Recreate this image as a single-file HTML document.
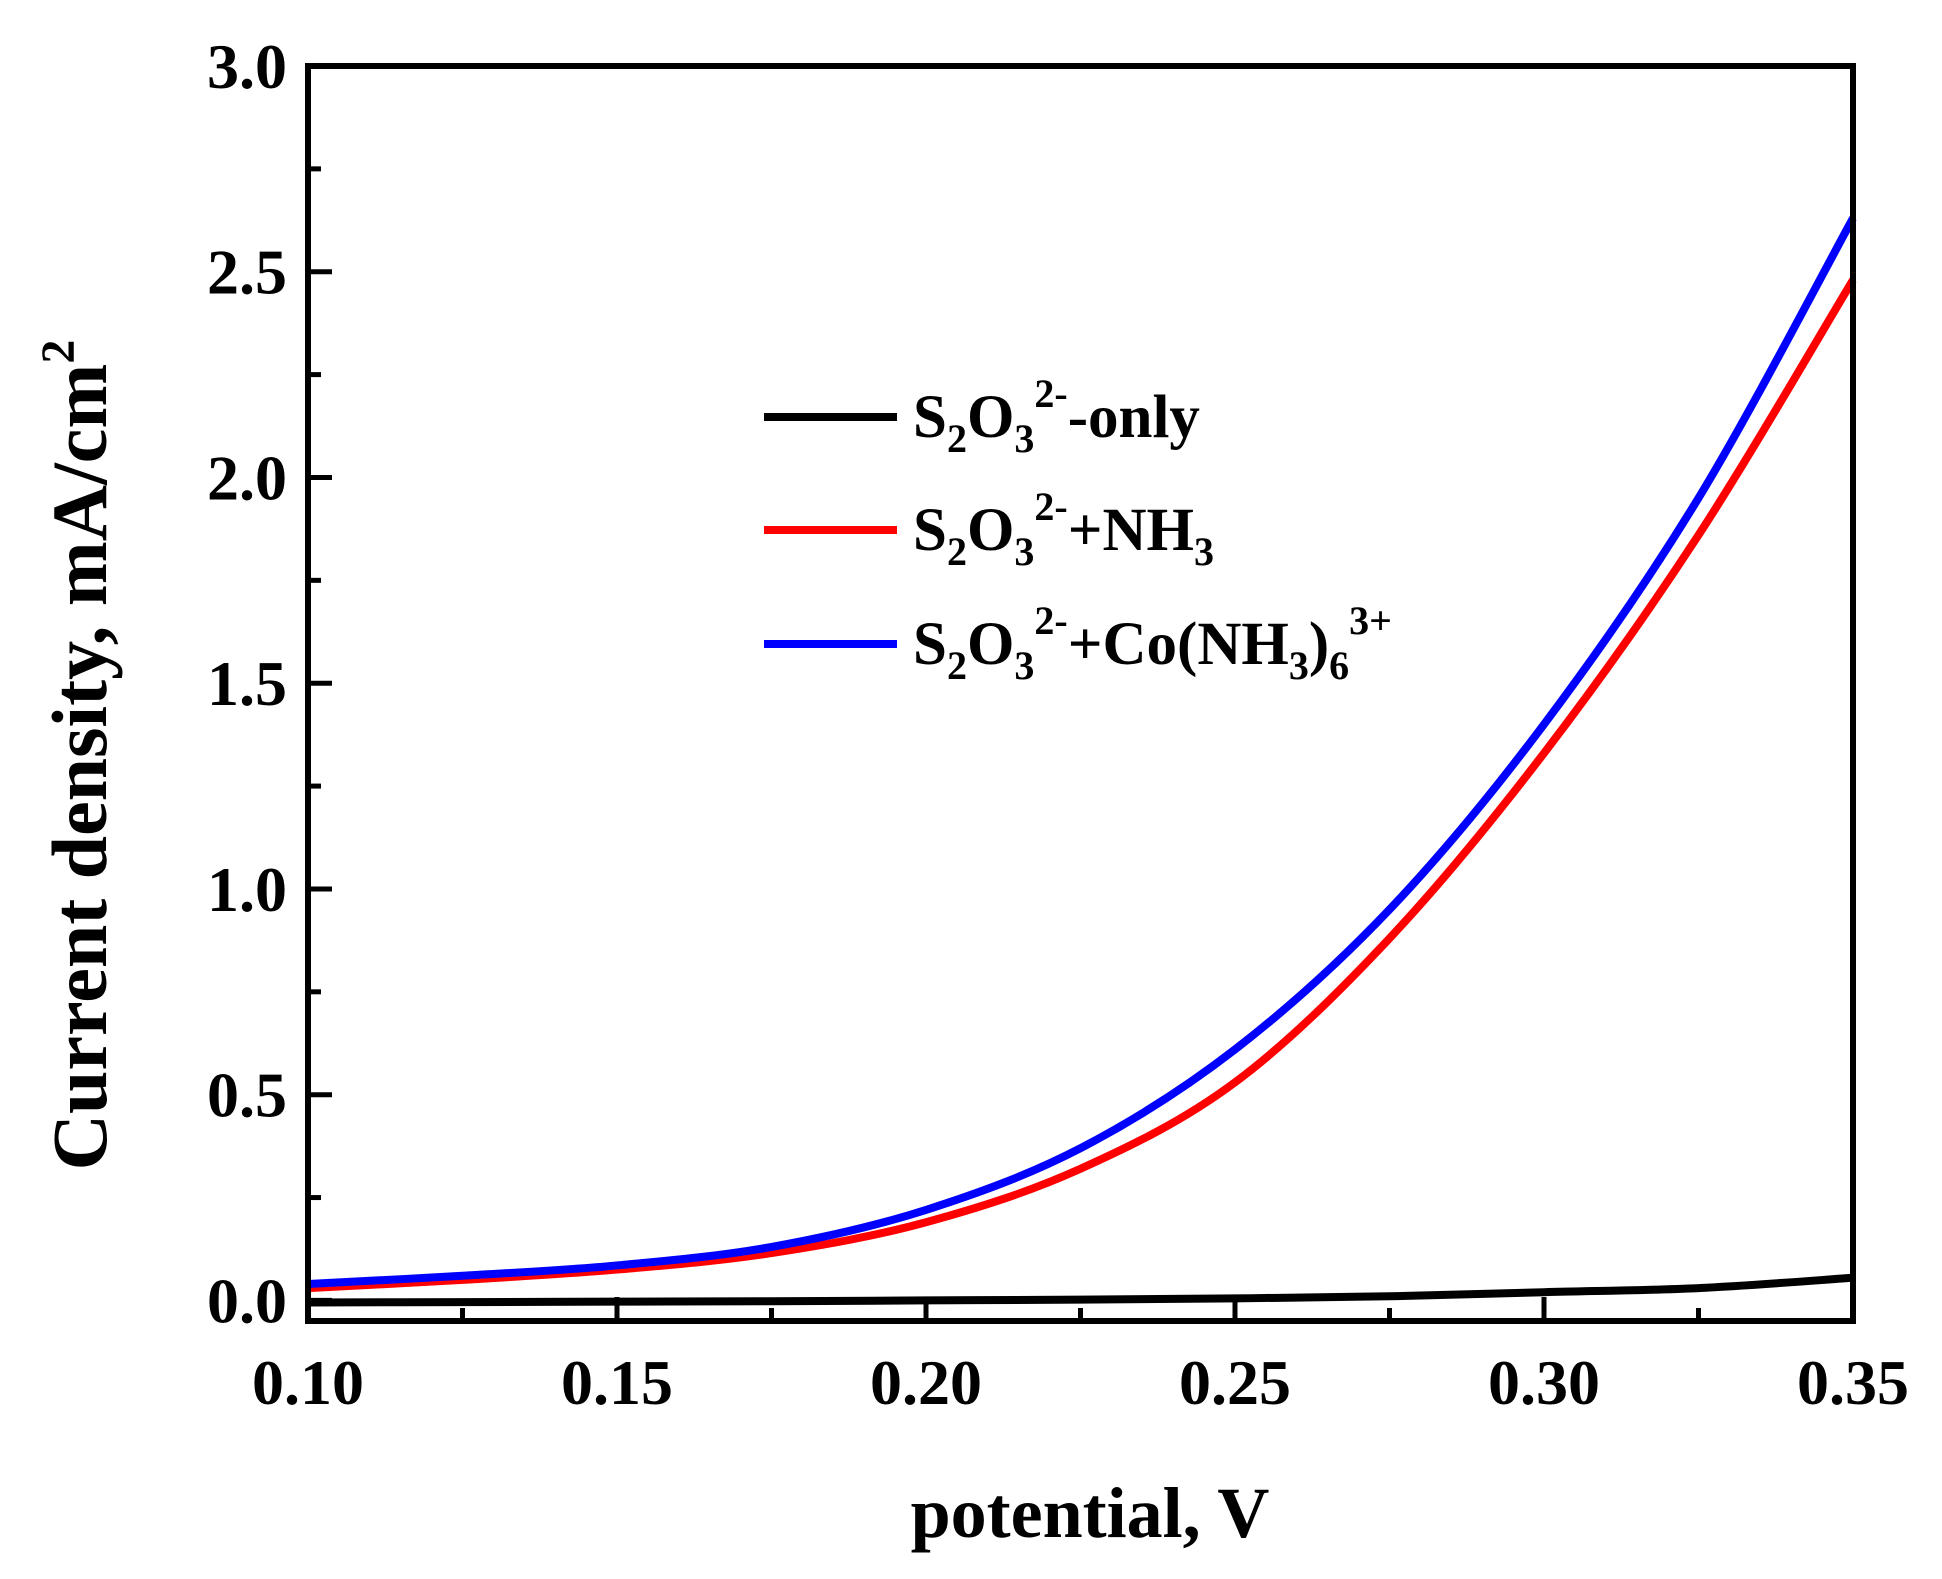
<!DOCTYPE html>
<html><head><meta charset="utf-8"><style>
body{margin:0;background:#fff;}
svg text{font-family:"Liberation Serif",serif;font-weight:bold;fill:#000;}
</style></head><body>
<svg width="1942" height="1574" viewBox="0 0 1942 1574">
<g id="marks"></g>
<g id="axes"></g>
<g id="legend"></g>
<text x="1090" y="1537" font-size="72" text-anchor="middle">potential, V</text>
<text transform="translate(106,755) rotate(-90)" font-size="78" text-anchor="middle">Current density, mA/cm<tspan font-size="48" dy="-32">2</tspan></text>
</svg>
<script>
const xs = [0.10,0.125,0.15,0.175,0.20,0.225,0.25,0.275,0.30,0.325,0.35];
const blackVals = [-0.005,-0.004,-0.003,-0.002,0.0,0.002,0.005,0.01,0.02,0.03,0.055];
const redVals = [0.03,0.05,0.075,0.115,0.19,0.32,0.53,0.88,1.33,1.86,2.48];
const blueVals = [0.04,0.06,0.085,0.13,0.22,0.37,0.61,0.95,1.40,1.95,2.63];
const xTicks = ["0.10","0.15","0.20","0.25","0.30","0.35"];
const yTicks = ["0.0","0.5","1.0","1.5","2.0","2.5","3.0"];
const L=308,R=1853,T=66,B=1321,XMIN=0.10,XMAX=0.35,YMIN=-0.05,YMAX=3.0;
const sx=v=>L+(v-XMIN)/(XMAX-XMIN)*(R-L);
const sy=v=>B-(v-YMIN)/(YMAX-YMIN)*(B-T);
const NS="http://www.w3.org/2000/svg";
function mk(tag,attrs,parent){const e=document.createElementNS(NS,tag);for(const k in attrs)e.setAttribute(k,attrs[k]);parent.appendChild(e);return e;}
function pathFor(vals){
  const p=xs.map((x,i)=>[sx(x),sy(vals[i])]);
  let d="M"+p[0][0]+","+p[0][1];
  for(let i=0;i<p.length-1;i++){
    const p0=p[Math.max(0,i-1)],p1=p[i],p2=p[i+1],p3=p[Math.min(p.length-1,i+2)];
    const c1=[p1[0]+(p2[0]-p0[0])/6,p1[1]+(p2[1]-p0[1])/6];
    const c2=[p2[0]-(p3[0]-p1[0])/6,p2[1]-(p3[1]-p1[1])/6];
    d+=" C"+c1+" "+c2+" "+p2;
  }
  return d;
}
const marks=document.getElementById('marks');
const series=[[blackVals,"#000","black-series"],[redVals,"#ff0000","red-series"],[blueVals,"#0000ff","blue-series"]];
series.forEach(s=>{
  const e=mk('path',{d:pathFor(s[0]),fill:"none",stroke:s[1],"stroke-width":8},marks);
  
  
});
const ax=document.getElementById('axes');
const frame=mk('rect',{x:L,y:T,width:R-L,height:B-T,fill:"none",stroke:"#000","stroke-width":6},ax);


xTicks.forEach((t,i)=>{
  const v=parseFloat(t),x=sx(v);
  mk('line',{x1:x,x2:x,y1:B,y2:B-24,stroke:"#000","stroke-width":5},ax);
  if(i<xTicks.length-1){const xm=sx(v+0.025);mk('line',{x1:xm,x2:xm,y1:B,y2:B-13,stroke:"#000","stroke-width":5},ax);}
  const tx=mk('text',{x:x,y:1404,"font-size":64,"text-anchor":"middle"},ax);tx.textContent=t;
  
  
});
yTicks.forEach((t,i)=>{
  const v=parseFloat(t),y=sy(v);
  mk('line',{x1:L,x2:L+24,y1:y,y2:y,stroke:"#000","stroke-width":5},ax);
  if(i<yTicks.length-1){const ym=sy(v+0.25);mk('line',{x1:L,x2:L+13,y1:ym,y2:ym,stroke:"#000","stroke-width":5},ax);}
  const tx=mk('text',{x:287,y:y+22,"font-size":64,"text-anchor":"end"},ax);tx.textContent=t;
  
  
});
const lg=document.getElementById('legend');
const lab=[
 ['S<tspan font-size="40" dy="15">2</tspan><tspan dy="-15">O</tspan><tspan font-size="40" dy="15">3</tspan><tspan font-size="40" dy="-45">2-</tspan><tspan dy="30">-only</tspan>',"#000",417],
 ['S<tspan font-size="40" dy="15">2</tspan><tspan dy="-15">O</tspan><tspan font-size="40" dy="15">3</tspan><tspan font-size="40" dy="-45">2-</tspan><tspan dy="30">+NH</tspan><tspan font-size="40" dy="15">3</tspan>',"#ff0000",530],
 ['S<tspan font-size="40" dy="15">2</tspan><tspan dy="-15">O</tspan><tspan font-size="40" dy="15">3</tspan><tspan font-size="40" dy="-45">2-</tspan><tspan dy="30">+Co(NH</tspan><tspan font-size="40" dy="15">3</tspan><tspan dy="-15">)</tspan><tspan font-size="40" dy="15">6</tspan><tspan font-size="40" dy="-45">3+</tspan>',"#0000ff",644]
];
lab.forEach(l=>{
  const ln=mk('line',{x1:764,x2:897,y1:l[2],y2:l[2],stroke:l[1],"stroke-width":8},lg);
  
  
  const tx=mk('text',{x:913,y:l[2]+20,"font-size":61},lg);tx.innerHTML=l[0];
  
  
});
</script>
</body></html>
